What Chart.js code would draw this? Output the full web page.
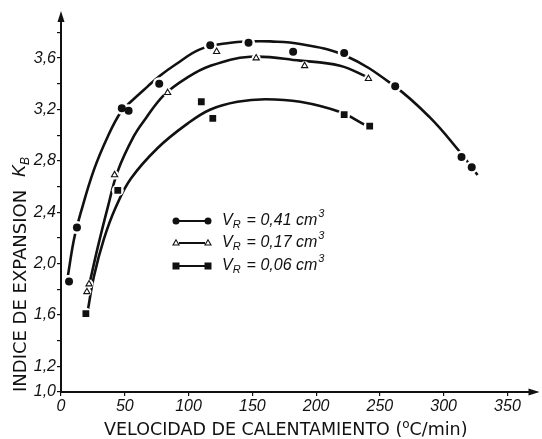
<!DOCTYPE html>
<html>
<head>
<meta charset="utf-8">
<script src="https://cdn.jsdelivr.net/npm/chart.js@4/dist/chart.umd.min.js"></script>
<style>
  html, body { margin: 0; padding: 0; background: #fff; }
  #wrap { width: 542px; height: 439px; }
</style>
</head>
<body>
<div id="wrap"><canvas id="c" width="542" height="439"></canvas></div>
<script>
// Measured expansion index K_B versus heating rate, three sample volumes V_R
const volumeLabels = ['0,41', '0,17', '0,06'];

const rate041 = [6.3, 12.5, 47.7, 53, 77, 117, 147, 182, 222, 262, 314, 322];
const kb041   = [1.86, 2.28, 3.21, 3.19, 3.40, 3.70, 3.72, 3.65, 3.64, 3.38, 2.83, 2.75];

const rate017 = [20.3, 22, 42, 83.6, 122, 153, 191, 241];
const kb017   = [1.78, 1.84, 2.69, 3.33, 3.65, 3.60, 3.54, 3.44];

const rate006 = [19.5, 44.5, 110, 119, 222, 242];
const kb006   = [1.61, 2.57, 3.26, 3.13, 3.16, 3.07];

// Hand-drawn trend curves through each series
const fitRate041 = [5.5, 10.2, 15.6, 25.8, 36.7, 46.9, 54.7, 68, 77.3, 89.8, 109.4, 133, 147, 164, 187.5, 222.7, 261.7, 289, 311, 326.6];
const fitKb041   = [1.91, 2.19, 2.40, 2.73, 2.99, 3.18, 3.26, 3.38, 3.46, 3.55, 3.67, 3.72, 3.73, 3.73, 3.71, 3.62, 3.38, 3.14, 2.89, 2.69];

const fitRate017 = [22.7, 28.9, 36.7, 44.5, 57, 66.4, 80.5, 97.7, 117.2, 148.4, 187.5, 218.8, 240.6];
const fitKb017   = [1.86, 2.13, 2.44, 2.72, 2.99, 3.13, 3.31, 3.44, 3.54, 3.61, 3.58, 3.54, 3.45];

const fitRate006 = [21.1, 25.8, 33.6, 43, 54.7, 75.8, 99.2, 117.2, 138.3, 160.2, 187.5, 218.8, 238.3];
const fitKb006   = [1.64, 1.90, 2.19, 2.44, 2.66, 2.90, 3.09, 3.20, 3.26, 3.28, 3.26, 3.18, 3.08];

// Axis ticks
const xTickValues = [0, 50, 100, 150, 200, 250, 300, 350];
const yTickValues = [1.0, 1.2, 1.4, 1.6, 1.8, 2.0, 2.2, 2.4, 2.6, 2.8, 3.0, 3.2, 3.4, 3.6, 3.8];
const yLabelled   = [1.0, 1.2, 1.6, 2.0, 2.4, 2.8, 3.2, 3.6];

const pts = (xs, ys) => xs.map((x, i) => ({ x: x, y: ys[i] }));

const INK = '#111';
const tickFont = { family: 'Liberation Sans', size: 16, style: 'italic' };

function curve(xs, ys) {
  return {
    data: pts(xs, ys), showLine: true, borderColor: INK, borderWidth: 2.6,
    pointRadius: 0, tension: 0.4, fill: false, order: 3
  };
}
function halo(xs, ys, r) {
  return {
    data: pts(xs, ys), showLine: false, pointRadius: r, pointStyle: 'circle',
    pointBackgroundColor: '#fff', pointBorderWidth: 0, order: 2
  };
}
function marker(xs, ys, style, r, fillCol, bw) {
  return {
    data: pts(xs, ys), showLine: false, pointStyle: style, pointRadius: r,
    pointBackgroundColor: fillCol, pointBorderColor: INK, pointBorderWidth: bw, order: 1
  };
}

// Rich text helper: parts with optional sub/superscript shift
function drawParts(ctx, x, y, parts) {
  let cx = x;
  for (const p of parts) {
    ctx.font = (p.italic ? 'italic ' : '') + p.size + 'px ' + (p.family || 'Liberation Sans');
    ctx.fillText(p.t, cx, y + (p.dy || 0));
    cx += ctx.measureText(p.t).width + (p.gap || 0);
  }
  return cx;
}

const decorations = {
  id: 'decorations',
  afterDraw(chart) {
    const ctx = chart.ctx;
    const xs = chart.scales.x, ys = chart.scales.y;
    const ax = xs.left, ay = ys.bottom;
    ctx.save();
    ctx.fillStyle = INK;
    ctx.strokeStyle = INK;

    // arrow heads at the ends of the axes
    ctx.beginPath();
    ctx.moveTo(ax, ys.top - 6); ctx.lineTo(ax - 3.5, ys.top + 5); ctx.lineTo(ax + 3.5, ys.top + 5);
    ctx.closePath(); ctx.fill();
    ctx.beginPath();
    ctx.moveTo(xs.right + 4, ay); ctx.lineTo(xs.right - 7, ay - 3.5); ctx.lineTo(xs.right - 7, ay + 3.5);
    ctx.closePath(); ctx.fill();

    // x axis title
    ctx.textBaseline = 'alphabetic';
    ctx.textAlign = 'left';
    const tf = 'DejaVu Sans';
    drawParts(ctx, 104, 435, [
      { t: 'VELOCIDAD DE CALENTAMIENTO (', size: 17.5, family: tf },
      { t: 'o', size: 12, dy: -7, family: tf },
      { t: 'C/min)', size: 17.5, family: tf }
    ]);

    // y axis title (rotated)
    ctx.save();
    ctx.translate(26, 392);
    ctx.rotate(-Math.PI / 2);
    let end = drawParts(ctx, 0, 0, [{ t: 'INDICE DE EXPANSION', size: 18, family: tf }]);
    drawParts(ctx, end + 13, -1, [
      { t: 'K', size: 18, italic: true },
      { t: 'B', size: 12, italic: true, dy: 4 }
    ]);
    ctx.restore();

    // legend
    const rows = [
      { y: 221, style: 'circle' },
      { y: 243, style: 'triangle' },
      { y: 266, style: 'rect' }
    ];
    const x1 = 176, x2 = 208;
    rows.forEach((row, i) => {
      ctx.lineWidth = 2;
      ctx.beginPath(); ctx.moveTo(x1 + 3, row.y); ctx.lineTo(x2 - 3, row.y); ctx.stroke();
      [x1, x2].forEach(px => {
        if (row.style === 'circle') {
          ctx.beginPath(); ctx.arc(px, row.y, 3.5, 0, Math.PI * 2); ctx.fill();
        } else if (row.style === 'triangle') {
          ctx.lineWidth = 1.1;
          ctx.fillStyle = '#fff';
          ctx.beginPath(); ctx.moveTo(px, row.y - 3.2); ctx.lineTo(px - 3, row.y + 2); ctx.lineTo(px + 3, row.y + 2);
          ctx.closePath(); ctx.fill(); ctx.stroke();
          ctx.fillStyle = INK;
        } else {
          ctx.fillRect(px - 3.5, row.y - 3.5, 7, 7);
        }
      });
      ctx.textBaseline = 'middle';
      drawParts(ctx, 222, row.y, [
        { t: 'V', size: 16, italic: true },
        { t: 'R', size: 11, italic: true, dy: 4, gap: 6 },
        { t: '= ' + volumeLabels[i] + ' cm', size: 16, italic: true, gap: 1 },
        { t: '3', size: 11, italic: true, dy: -7 }
      ]);
    });
    ctx.restore();
  }
};

new Chart(document.getElementById('c'), {
  type: 'scatter',
  data: {
    datasets: [
      curve(fitRate041, fitKb041),
      curve(fitRate017, fitKb017),
      curve(fitRate006, fitKb006),
      halo(rate041, kb041, 6.5),
      halo(rate017, kb017, 4.5),
      halo(rate006, kb006, 6),
      marker(rate041, kb041, 'circle', 4, INK, 0),
      marker(rate017, kb017, 'triangle', 3.6, '#fff', 1.1),
      marker(rate006, kb006, 'rect', 4.8, INK, 0)
    ]
  },
  options: {
    responsive: false,
    animation: false,
    devicePixelRatio: 1,
    layout: { padding: { top: 17, right: 5, left: 0, bottom: 0 } },
    plugins: { legend: { display: false }, tooltip: { enabled: false } },
    elements: { point: { hoverRadius: 0 } },
    scales: {
      x: {
        type: 'linear', min: 0, max: 372,
        afterFit(s) { s.height = 47; },
        afterBuildTicks(s) { s.ticks = xTickValues.map(v => ({ value: v })); },
        border: { display: true, color: INK, width: 2 },
        grid: { display: true, drawOnChartArea: false, drawTicks: true, tickLength: 4, color: INK, lineWidth: 1.2 },
        ticks: { color: INK, font: tickFont, padding: 1, maxRotation: 0, autoSkip: false }
      },
      y: {
        type: 'linear', min: 1.0, max: 3.92,
        afterFit(s) { s.width = 61; },
        afterBuildTicks(s) { s.ticks = yTickValues.map(v => ({ value: v })); },
        border: { display: true, color: INK, width: 2 },
        grid: { display: true, drawOnChartArea: false, drawTicks: true, tickLength: 4, color: INK, lineWidth: 1.2 },
        ticks: {
          color: INK, font: tickFont, padding: 1, autoSkip: false,
          callback: v => yLabelled.some(l => Math.abs(l - v) < 1e-6) ? v.toFixed(1).replace('.', ',') : ''
        }
      }
    }
  },
  plugins: [decorations]
});
</script>
</body>
</html>
